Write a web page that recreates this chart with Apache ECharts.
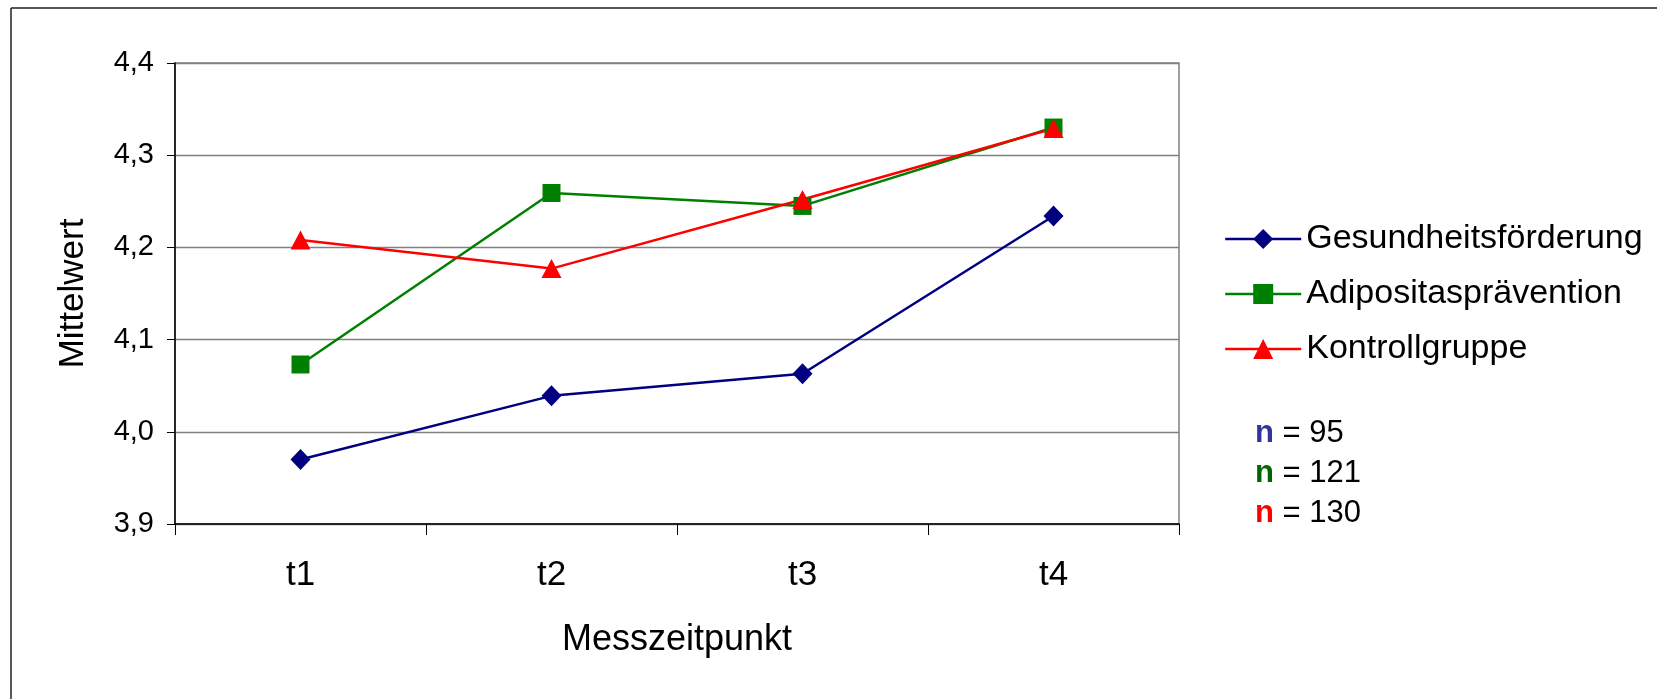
<!DOCTYPE html>
<html>
<head>
<meta charset="utf-8">
<script src="https://cdn.jsdelivr.net/npm/echarts@6/dist/echarts.min.js"></script>
<style>
html,body{margin:0;padding:0;background:#fff;}
#chart{width:1657px;height:699px;}
</style>
</head>
<body>
<div id="chart"></div>
<script>
var categories = ['t1', 't2', 't3', 't4'];
var gesundheit = [3.970, 4.039, 4.063, 4.234];
var adipositas = [4.073, 4.259, 4.245, 4.330];
var kontroll = [4.208, 4.177, 4.252, 4.329];
var seriesNames = ['Gesundheitsförderung', 'Adipositasprävention', 'Kontrollgruppe'];
var sampleSizes = ['95', '121', '130'];

var FONT = '"Liberation Sans", Arial, sans-serif';
var chart = echarts.init(document.getElementById('chart'), null, {renderer: 'canvas'});

var option = {
  backgroundColor: '#ffffff',
  animation: false,
  textStyle: {fontFamily: FONT, color: '#000'},
  grid: {
    left: 175, top: 63, width: 1004, height: 461,
    show: true, borderColor: '#808080', borderWidth: 1.5, backgroundColor: 'transparent'
  },
  legend: {
    orient: 'vertical',
    left: 1224, top: 222,
    padding: 0,
    itemWidth: 76, itemHeight: 25, itemGap: 21,
    lineStyle: {width: 2.4},
    textStyle: {fontFamily: FONT, fontSize: 34, color: '#000'},
    data: seriesNames
  },
  xAxis: {
    type: 'category',
    data: categories,
    boundaryGap: true,
    axisLine: {lineStyle: {color: '#000', width: 1.5}},
    axisTick: {show: true, length: 11, lineStyle: {color: '#000', width: 1}},
    axisLabel: {fontFamily: FONT, fontSize: 35, color: '#000', margin: 34},
    name: 'Messzeitpunkt',
    nameLocation: 'middle',
    nameGap: 98,
    nameTextStyle: {fontFamily: FONT, fontSize: 36, color: '#000'}
  },
  yAxis: {
    type: 'value',
    min: 3.9, max: 4.4, interval: 0.1,
    axisLine: {show: true, lineStyle: {color: '#000', width: 1.5}},
    axisTick: {show: true, length: 8, lineStyle: {color: '#000', width: 1}},
    axisLabel: {
      fontFamily: FONT, fontSize: 29, color: '#000', margin: 21,
      formatter: function (v) { return v.toFixed(1).replace('.', ','); }
    },
    splitLine: {show: true, lineStyle: {color: '#808080', width: 1.4}},
    name: 'Mittelwert',
    nameLocation: 'middle',
    nameGap: 84,
    nameTextStyle: {fontFamily: FONT, fontSize: 35, color: '#000'}
  },
  series: [
    {
      name: seriesNames[0], type: 'line', data: gesundheit,
      symbol: 'diamond', symbolSize: [20, 21],
      itemStyle: {color: '#000080'},
      lineStyle: {color: '#000080', width: 2.5}
    },
    {
      name: seriesNames[1], type: 'line', data: adipositas,
      symbol: 'rect', symbolSize: 18,
      itemStyle: {color: '#008000'},
      lineStyle: {color: '#008000', width: 2.5}
    },
    {
      name: seriesNames[2], type: 'line', data: kontroll,
      symbol: 'triangle', symbolSize: [20, 19],
      itemStyle: {color: '#ff0000'},
      lineStyle: {color: '#ff0000', width: 2.5}
    }
  ],
  graphic: [
    {type: 'line', shape: {x1: 11, y1: 8, x2: 1657, y2: 8}, style: {stroke: '#222', lineWidth: 1.5}, silent: true},
    {type: 'line', shape: {x1: 11, y1: 8, x2: 11, y2: 699}, style: {stroke: '#222', lineWidth: 1.5}, silent: true},
    {
      type: 'text', left: 1255, top: 413, silent: true,
      style: {
        text: '{b|n} = ' + sampleSizes[0] + '\n{g|n} = ' + sampleSizes[1] + '\n{r|n} = ' + sampleSizes[2],
        font: '31px ' + FONT,
        fill: '#000',
        lineHeight: 40,
        rich: {
          b: {fill: '#333399', fontWeight: 'bold', fontSize: 31, fontFamily: FONT, lineHeight: 40},
          g: {fill: '#006600', fontWeight: 'bold', fontSize: 31, fontFamily: FONT, lineHeight: 40},
          r: {fill: '#ff0000', fontWeight: 'bold', fontSize: 31, fontFamily: FONT, lineHeight: 40}
        }
      }
    }
  ]
};
chart.setOption(option);
</script>
</body>
</html>
